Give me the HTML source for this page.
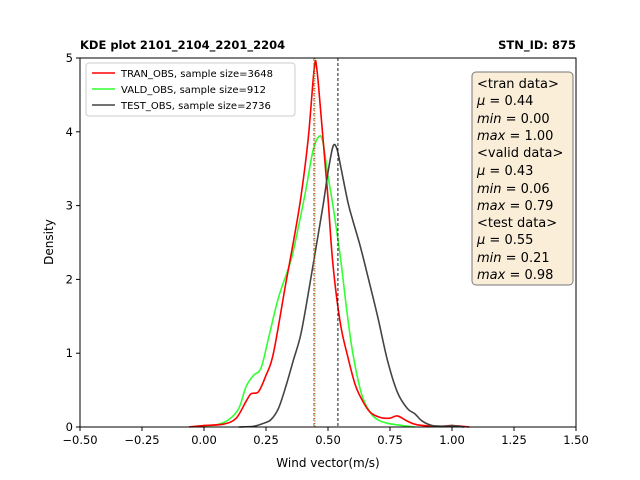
<!DOCTYPE html>
<html><head><meta charset="utf-8"><style>
body{margin:0;background:#fff;}
svg{display:block;font-family:"DejaVu Sans","Liberation Sans",sans-serif;}
</style></head><body>
<svg id="chart" width="640" height="480" viewBox="0 0 640 480" xmlns="http://www.w3.org/2000/svg">
<text x="80" y="49" font-size="11.5" font-weight="bold">KDE plot 2101_2104_2201_2204</text>
<text x="576" y="49" font-size="11.5" font-weight="bold" text-anchor="end">STN_ID: 875</text>
<g id="plot"></g>
<text x="328" y="467" font-size="12" text-anchor="middle">Wind vector(m/s)</text>
<text transform="translate(53,242) rotate(-90)" font-size="12" text-anchor="middle">Density</text>
<g>
<rect x="86" y="63" width="209" height="53" rx="3" fill="#fff" fill-opacity="0.8" stroke="#ccc"/>
<line x1="92" y1="73" x2="115" y2="73" stroke="#ff0000" stroke-width="1.6"/>
<text x="121" y="77" font-size="10">TRAN_OBS, sample size=3648</text>
<line x1="92" y1="89" x2="115" y2="89" stroke="#33ff33" stroke-width="1.6"/>
<text x="121" y="93" font-size="10">VALD_OBS, sample size=912</text>
<line x1="92" y1="105" x2="115" y2="105" stroke="#444" stroke-width="1.6"/>
<text x="121" y="109" font-size="10">TEST_OBS, sample size=2736</text>
</g>
<g font-size="13">
<rect x="472" y="72" width="101" height="213" rx="4" fill="#f5deb3" fill-opacity="0.5" stroke="#777"/>
<text x="477" y="88">&lt;tran data&gt;</text>
<text x="477" y="105"><tspan font-style="italic">μ</tspan> = 0.44</text>
<text x="477" y="123"><tspan font-style="italic">min</tspan> = 0.00</text>
<text x="477" y="140"><tspan font-style="italic">max</tspan> = 1.00</text>
<text x="477" y="157">&lt;valid data&gt;</text>
<text x="477" y="175"><tspan font-style="italic">μ</tspan> = 0.43</text>
<text x="477" y="193"><tspan font-style="italic">min</tspan> = 0.06</text>
<text x="477" y="210"><tspan font-style="italic">max</tspan> = 0.79</text>
<text x="477" y="227">&lt;test data&gt;</text>
<text x="477" y="244"><tspan font-style="italic">μ</tspan> = 0.55</text>
<text x="477" y="262"><tspan font-style="italic">min</tspan> = 0.21</text>
<text x="477" y="279"><tspan font-style="italic">max</tspan> = 0.98</text>
</g>
</svg>
<script>
const xTicks=[-0.5,-0.25,0,0.25,0.5,0.75,1.0,1.25,1.5];
const xTickLabels=["−0.50","−0.25","0.00","0.25","0.50","0.75","1.00","1.25","1.50"];
const yTicks=[0,1,2,3,4,5];
const tranX=[-0.06,0,0.08,0.13,0.17,0.19,0.22,0.25,0.28,0.33,0.36,0.39,0.42,0.445,0.455,0.47,0.49,0.5,0.52,0.55,0.58,0.61,0.64,0.67,0.71,0.75,0.78,0.82,0.86,0.95,1.0,1.07];
const tranY=[0,0.02,0.04,0.12,0.35,0.45,0.48,0.7,1.0,1.95,2.5,3.1,3.9,4.88,4.85,4.3,3.5,3.1,2.2,1.4,0.95,0.57,0.35,0.2,0.13,0.12,0.15,0.08,0.03,0.01,0.02,0];
const valdX=[-0.05,0,0.05,0.1,0.14,0.17,0.2,0.23,0.26,0.3,0.35,0.38,0.41,0.44,0.465,0.48,0.5,0.52,0.55,0.575,0.6,0.635,0.67,0.7,0.74,0.8,0.85];
const valdY=[0,0.02,0.03,0.1,0.25,0.55,0.7,0.8,1.2,1.75,2.25,2.7,3.2,3.75,3.94,3.85,3.4,3.0,2.3,1.6,1.0,0.45,0.2,0.1,0.05,0.02,0];
const testX=[0.14,0.2,0.24,0.27,0.3,0.33,0.36,0.39,0.42,0.45,0.48,0.5,0.52,0.535,0.55,0.58,0.6,0.63,0.66,0.7,0.74,0.78,0.82,0.85,0.88,0.92,0.98,1.0,1.05];
const testY=[0,0.01,0.05,0.1,0.25,0.55,0.9,1.25,1.8,2.4,3.0,3.45,3.8,3.78,3.55,3.05,2.8,2.45,2.05,1.5,0.9,0.47,0.25,0.18,0.08,0.02,0.01,0.02,0];
const meanLines=[0.443,0.447,0.54];
const L=80,R=576,T=58,B=427;
const xs=v=>L+(v+0.5)/2*(R-L);
const ys=d=>B-d/5*(B-T);
const NS="http://www.w3.org/2000/svg";
const g=document.getElementById('plot');
function mk(tag,attrs){const e=document.createElementNS(NS,tag);for(const k in attrs)e.setAttribute(k,attrs[k]);g.appendChild(e);return e;}
function path(X,Y){
  const p=X.map((x,i)=>[xs(x),ys(Y[i])]);
  let d="M"+p[0][0]+","+p[0][1];
  for(let i=0;i<p.length-1;i++){
    const p0=p[Math.max(0,i-1)],p1=p[i],p2=p[i+1],p3=p[Math.min(p.length-1,i+2)];
    const c1=[p1[0]+(p2[0]-p0[0])/6,p1[1]+(p2[1]-p0[1])/6];
    const c2=[p2[0]-(p3[0]-p1[0])/6,p2[1]-(p3[1]-p1[1])/6];
    d+=" C"+c1+" "+c2+" "+p2;
  }
  return d;
}
const series=[[valdX,valdY,"#33ff33","vald-obs-curve"],[tranX,tranY,"#ff0000","tran-obs-curve"],[testX,testY,"#444444","test-obs-curve"]];
series.forEach(s=>{
  const e=mk('path',{d:path(s[0],s[1]),fill:'none',stroke:s[2],'stroke-width':1.6});
  
  
});
const mColors=["#00cc00","#ff0000","#000000"];
const mDash=["3,2","1,1.5","3,2"];
const mNames=["vald-mean-line","tran-mean-line","test-mean-line"];
meanLines.forEach((m,i)=>{
  const e=mk('line',{x1:xs(m),x2:xs(m),y1:T,y2:B,stroke:mColors[i],'stroke-width':0.9,'stroke-dasharray':mDash[i]});
  
  
});
const frame=mk('rect',{x:L,y:T,width:R-L,height:B-T,fill:'none',stroke:'#000','stroke-width':1});


xTicks.forEach((t,i)=>{
  const l=mk('line',{x1:xs(t),x2:xs(t),y1:B,y2:B+4,stroke:'#000'});
  
  
  const tx=mk('text',{x:xs(t),y:B+17,'font-size':11.5,'text-anchor':'middle'});
  tx.textContent=xTickLabels[i];
  
  
});
yTicks.forEach(t=>{
  const l=mk('line',{x1:L-4,x2:L,y1:ys(t),y2:ys(t),stroke:'#000'});
  
  
  const tx=mk('text',{x:L-7,y:ys(t)+4,'font-size':11.5,'text-anchor':'end'});
  tx.textContent=String(t);
  
  
});
</script>
</body></html>
